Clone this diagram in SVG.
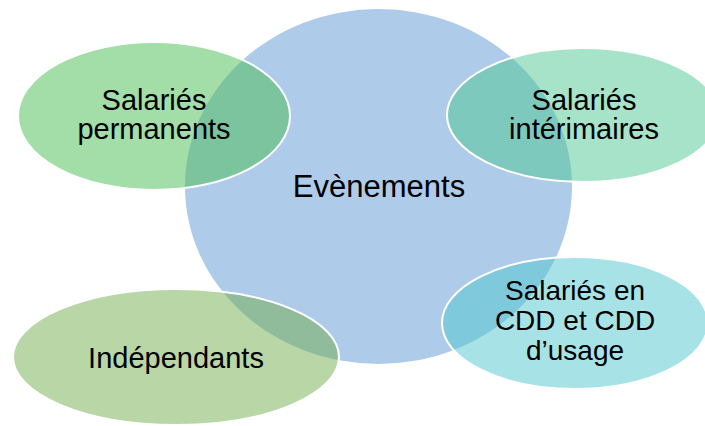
<svg xmlns="http://www.w3.org/2000/svg" width="705" height="426" viewBox="0 0 705 426">
<style>
.t{font-family:"Liberation Sans",Arial,sans-serif;font-size:29px;fill:#000;text-anchor:middle}
.big{font-size:31px}
.s{font-size:28px}
.e{stroke:#fff;stroke-width:2}
.f{fill-opacity:0.5}
</style>
<rect width="705" height="426" fill="#fff"/>
<g id="evenements">
<ellipse cx="378.5" cy="186.5" rx="193.5" ry="177.5" fill="#aecbea"/>
<text class="t big" x="379" y="197">Evènements</text>
</g>
<g id="permanents">
<ellipse class="f" cx="154" cy="116" rx="136" ry="74" fill="#47bd51"/>
<ellipse class="e" cx="154" cy="116" rx="136" ry="74" fill="none"/>
<text class="t" x="154" y="110">Salariés</text>
<text class="t" x="154" y="139">permanents</text>
</g>
<g id="interimaires">
<ellipse class="f" cx="583" cy="115" rx="136" ry="67" fill="#4dc791"/>
<ellipse class="e" cx="583" cy="115" rx="136" ry="67" fill="none"/>
<text class="t" x="584" y="110">Salariés</text>
<text class="t" x="584" y="139">intérimaires</text>
</g>
<g id="cdd">
<ellipse class="f" cx="575" cy="323" rx="133" ry="66" fill="#4fc7cd"/>
<ellipse class="e" cx="575" cy="323" rx="133" ry="66" fill="none"/>
<text class="t s" x="575" y="300">Salariés en</text>
<text class="t s" x="575" y="330">CDD et CDD</text>
<text class="t s" x="575" y="360">d’usage</text>
</g>
<g id="independants">
<ellipse class="f" cx="176" cy="357" rx="163" ry="68" fill="#71ad4d"/>
<ellipse class="e" cx="176" cy="357" rx="163" ry="68" fill="none"/>
<text class="t" x="176" y="368">Indépendants</text>
</g>
<g id="connectors"/>
</svg>
